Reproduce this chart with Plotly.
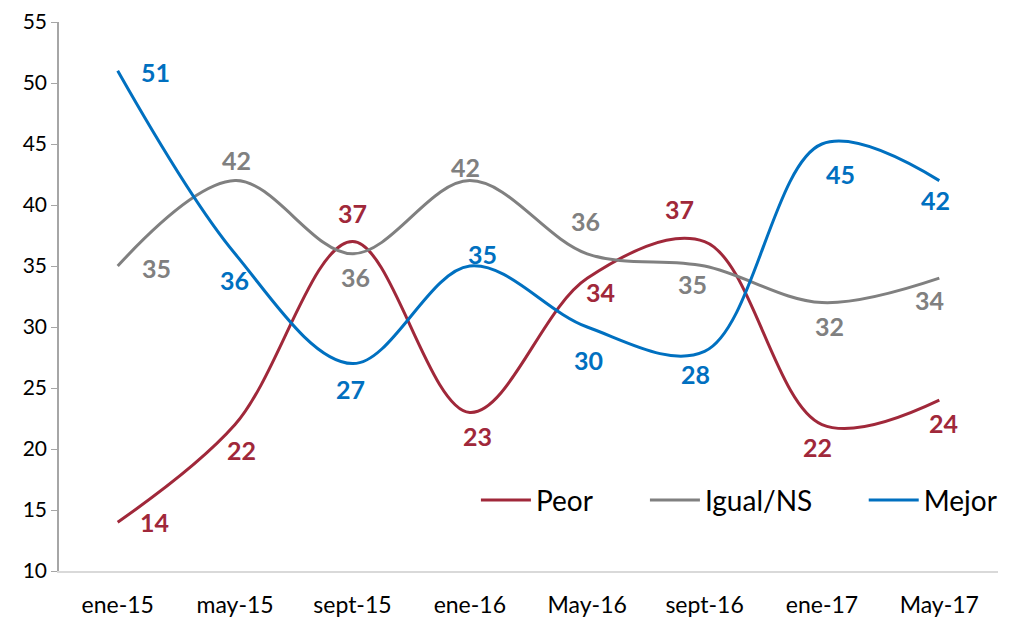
import plotly.graph_objects as go

categories = ["ene-15", "may-15", "sept-15", "ene-16", "May-16", "sept-16", "ene-17", "May-17"]
peor = [14, 22, 37, 23, 34, 37, 22, 24]
igual = [35, 42, 36, 42, 36, 35, 32, 34]
mejor = [51, 36, 27, 35, 30, 28, 45, 42]

# label offsets (px) per point: (xshift, yshift)
peor_off = [(37, 0), (6, -25), (0, 29), (8, -24), (13, -14), (-25, 33), (-4, -22), (4, -23)]
igual_off = [(39, -2), (1, 21), (3, -23), (-4, 14), (-2, 33), (-12, -18), (8, -23), (-10, -22)]
mejor_off = [(38, -1), (-1, -26), (-2, -25), (13, 12), (1, -33), (-9, -23), (19, -30), (-4, -19)]

C_PEOR = "#A0283A"
C_IGUAL = "#808080"
C_MEJOR = "#0070C0"
FONT = "Lato, 'Open Sans', sans-serif"

fig = go.Figure()
series = [("Peor", peor, C_PEOR, peor_off, "legend", 0.444),
          ("Igual/NS", igual, C_IGUAL, igual_off, "legend2", 0.624),
          ("Mejor", mejor, C_MEJOR, mejor_off, "legend3", 0.857)]
annotations = []
legends = {}
for name, vals, col, offs, lg, lx in series:
    fig.add_trace(go.Scatter(x=categories, y=vals, name=name, mode="lines", legend=lg,
                             line=dict(color=col, width=3, shape="spline", smoothing=1.0)))
    legends[lg] = dict(x=lx, y=0.129, xanchor="left", yanchor="middle",
                       font=dict(size=28, color="black", family=FONT),
                       bgcolor="rgba(0,0,0,0)", itemwidth=50)
    for c, v, (dx, dy) in zip(categories, vals, offs):
        annotations.append(dict(x=c, y=v, xref="x", yref="y", text=str(v), showarrow=False,
                                xshift=dx, yshift=dy,
                                font=dict(family=FONT, size=25, color=col, weight="bold")))

# page body has an 8px margin, so the figure is sized/offset to compensate
fig.update_layout(
    width=1006, height=609,
    margin=dict(l=51, r=11, t=14, b=46),
    paper_bgcolor="white", plot_bgcolor="white",
    font=dict(family=FONT, color="black"),
    showlegend=True,
    annotations=annotations,
    **legends,
)
fig.update_xaxes(type="category", range=[-0.5, 7.5], showgrid=False, zeroline=False,
                 showline=True, linecolor="#D9D9D9", linewidth=2, ticks="", automargin=False,
                 tickfont=dict(size=23, color="black"), ticklabelstandoff=12)
fig.update_yaxes(range=[10, 55], dtick=5, showgrid=False, zeroline=False, automargin=False,
                 showline=True, linecolor="#A6A6A6", linewidth=1.5, ticks="outside",
                 ticklen=6, tickcolor="#A6A6A6", tickfont=dict(size=21, color="black"))

fig.write_html("out.html")
